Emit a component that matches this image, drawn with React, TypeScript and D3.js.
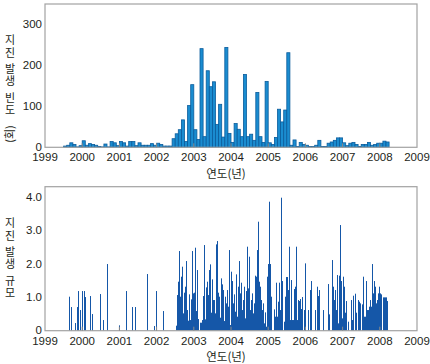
import * as d3 from "d3"

// monthly earthquake counts, starting July 1999 and ending March 2008
const countStart = 1999 + 6 / 12
const monthlyCounts = [
  // 1999 Jul-Dec
  3, 5, 11, 7, 1, 4,
  // 2000
  16, 5, 9, 7, 5, 2, 1, 8, 1, 14, 11, 4,
  // 2001
  14, 11, 3, 14, 14, 4, 11, 5, 5, 5, 9, 5,
  // 2002
  10, 7, 3, 3, 3, 21, 33, 43, 67, 14, 102, 153,
  // 2003
  43, 19, 241, 26, 187, 148, 160, 56, 105, 25, 244, 34,
  // 2004
  12, 58, 44, 26, 178, 26, 32, 17, 134, 26, 12, 161,
  // 2005
  11, 7, 24, 93, 62, 91, 231, 5, 18, 2, 12, 7,
  // 2006
  5, 2, 2, 5, 17, 2, 2, 10, 13, 17, 23, 23,
  // 2007
  11, 4, 10, 12, 7, 2, 7, 7, 12, 5, 7, 10,
  // 2008 Jan-Mar
  10, 15, 13,
]

// magnitude of individual events: [decimal year, magnitude]
const magnitudes: [number, number][] = [
  [1999.66, 1.02], [1999.72, 0.71], [1999.82, 0.23], [1999.88, 0.71], [1999.91, 1.19],
  [1999.96, 0.62], [2000.02, 1.19], [2000.07, 1.19], [2000.10, 1.01], [2000.23, 1.04],
  [2000.29, 0.5], [2000.5, 1.1], [2000.58, 0.32], [2000.69, 2.0], [2001.01, 0.16],
  [2001.18, 1.01], [2001.2, 1.19], [2001.36, 0.71], [2001.44, 0.71], [2001.76, 1.7],
  [2001.95, 0.14], [2002.0, 1.19], [2002.19, 0.59],
  [2002.535, 0.15], [2002.562, 1.07], [2002.589, 1.47], [2002.616, 2.39], [2002.643, 1.02],
  [2002.669, 1.62], [2002.696, 1.92], [2002.723, 0.52], [2002.75, 1.14], [2002.777, 1.32],
  [2002.804, 2.09], [2002.831, 0.62], [2002.858, 0.3], [2002.884, 1.09], [2002.911, 0.32],
  [2002.938, 0.94], [2002.965, 2.39], [2002.992, 1.12], [2003.019, 1.14], [2003.046, 2.49],
  [2003.073, 0.59], [2003.099, 1.82], [2003.126, 0.35], [2003.18, 0.24], [2003.207, 0.24],
  [2003.234, 0.32], [2003.261, 1.04], [2003.288, 2.57], [2003.315, 0.34], [2003.341, 1.3],
  [2003.368, 1.47], [2003.395, 1.07], [2003.422, 1.82], [2003.449, 1.99], [2003.476, 0.54],
  [2003.503, 1.54], [2003.53, 0.92], [2003.556, 0.92], [2003.583, 0.52], [2003.61, 2.59],
  [2003.637, 2.69], [2003.664, 1.14], [2003.691, 1.02], [2003.718, 0.39], [2003.745, 1.57],
  [2003.772, 1.39], [2003.798, 1.22], [2003.825, 0.29], [2003.852, 1.02], [2003.879, 0.82],
  [2003.906, 1.22], [2003.933, 0.72], [2003.96, 2.42], [2003.987, 0.17], [2004.013, 1.77],
  [2004.04, 1.49], [2004.067, 0.82], [2004.094, 1.09], [2004.121, 0.57], [2004.148, 1.69],
  [2004.175, 0.42], [2004.202, 1.32], [2004.228, 2.09], [2004.255, 1.12], [2004.282, 1.44],
  [2004.309, 0.62], [2004.336, 0.92], [2004.363, 1.32], [2004.39, 0.37], [2004.417, 1.19],
  [2004.444, 2.52], [2004.47, 1.27], [2004.497, 2.22], [2004.524, 0.62], [2004.551, 0.92],
  [2004.578, 1.12], [2004.605, 0.52], [2004.632, 0.82], [2004.659, 1.65], [2004.685, 1.62],
  [2004.712, 2.42], [2004.739, 3.27], [2004.766, 1.47], [2004.793, 1.32], [2004.82, 0.92],
  [2004.847, 0.62], [2004.874, 0.82], [2004.901, 0.22], [2004.927, 0.55], [2004.954, 0.12],
  [2004.981, 1.62], [2005.008, 2.0], [2005.035, 3.87], [2005.062, 2.0], [2005.089, 1.02],
  [2005.169, 0.64], [2005.196, 0.42], [2005.223, 1.44], [2005.25, 0.42], [2005.277, 0.87],
  [2005.304, 1.44], [2005.331, 0.62], [2005.358, 3.99], [2005.384, 1.49], [2005.438, 0.27],
  [2005.465, 1.02], [2005.492, 1.61], [2005.519, 1.61], [2005.546, 1.22], [2005.573, 2.52],
  [2005.599, 0.32], [2005.626, 1.52], [2005.653, 0.32], [2005.68, 0.32], [2005.707, 1.25],
  [2005.734, 1.32], [2005.761, 2.52], [2005.788, 0.32], [2005.815, 0.92], [2005.841, 0.89],
  [2005.868, 0.95], [2005.895, 0.65], [2005.922, 1.01], [2005.976, 0.62], [2006.003, 2.02],
  [2006.083, 0.62], [2006.137, 1.22], [2006.164, 1.49], [2006.272, 0.62], [2006.325, 1.32],
  [2006.352, 1.04], [2006.379, 1.22], [2006.487, 0.62], [2006.621, 1.4], [2006.648, 0.49],
  [2006.729, 2.12], [2006.755, 1.32], [2006.782, 0.92], [2006.809, 1.22], [2006.836, 0.62],
  [2006.863, 1.67], [2006.89, 0.22], [2006.917, 1.65], [2006.944, 3.17], [2006.97, 1.49],
  [2006.997, 0.37], [2007.024, 1.62], [2007.051, 1.32], [2007.078, 0.54], [2007.105, 0.89],
  [2007.159, 0.27], [2007.239, 0.92], [2007.266, 0.32], [2007.293, 1.05], [2007.347, 1.11],
  [2007.374, 0.54], [2007.427, 0.92], [2007.454, 0.87], [2007.481, 0.82], [2007.535, 0.79],
  [2007.562, 1.62], [2007.589, 0.42], [2007.616, 0.42], [2007.642, 1.49], [2007.669, 0.62],
  [2007.696, 0.62], [2007.723, 0.72], [2007.75, 0.92], [2007.777, 0.72], [2007.804, 2.0],
  [2007.831, 1.12], [2007.858, 1.49], [2007.884, 1.32], [2007.911, 0.82], [2007.938, 0.92],
  [2007.965, 1.12], [2007.992, 1.32], [2008.019, 1.12], [2008.046, 1.09], [2008.099, 1.0],
  [2008.126, 1.0], [2008.153, 1.0], [2008.18, 1.0], [2008.207, 0.89],
]

const years = d3.range(1999, 2010)
const countTicks = [0, 100, 200, 300]
const magTicks = [0, 1, 2, 3, 4]

// thin spaces between the word pairs
const countTitle = "지진\u2009발생\u2009빈도"
const magTitle = "지진\u2009발생\u2009규모"

const W = 430
const H = 364
const left = 45
const right = 417
const numFont = "'Liberation Sans Narrow', 'Arial Narrow', 'Liberation Sans', sans-serif"
const korFont = "'Noto Sans CJK KR', sans-serif"
const textColor = "#231f20"
const frameColor = "#a2a2a2"

function Frame({ top, bottom }: { top: number; bottom: number }) {
  const x = d3.scaleLinear().domain([1999, 2009]).range([left, right])
  return (
    <g>
      <rect x={left} y={top} width={right - left} height={bottom - top} fill="none" stroke={frameColor} strokeWidth={1.2} />
      {years.slice(1, -1).map((yr) => (
        <line key={yr} x1={x(yr)} x2={x(yr)} y1={bottom} y2={bottom - 4} stroke="#8a8a8a" strokeWidth={1} />
      ))}
      {years.map((yr) => (
        <text key={yr} x={x(yr)} y={bottom + 14} textAnchor="middle" fontFamily={numFont} fontSize={11.5} fill={textColor}>
          {yr}
        </text>
      ))}
      <text x={226} y={bottom + 30.5} textAnchor="middle" fontFamily={korFont} fontSize={11.5} fill={textColor}>
        연도(년)
      </text>
    </g>
  )
}

// upright stacked hangul, written top to bottom
function VerticalTitle({ text, top }: { text: string; top: number }) {
  return (
    <text x={10} y={top} fontFamily={korFont} fontSize={11} fill={textColor}
      style={{ writingMode: "vertical-rl", textOrientation: "upright", letterSpacing: "1.5px" }}>
      {text}
    </text>
  )
}

export default function App() {
  const x = d3.scaleLinear().domain([1999, 2009]).range([left, right])

  // upper panel: monthly counts
  const topY0 = 4
  const topY1 = 147.3
  const yCount = d3.scaleLinear().domain([0, 350]).range([topY1, topY0])

  // lower panel: magnitudes
  const botY0 = 186.7
  const botY1 = 330.7
  const yMag = d3.scaleLinear().domain([0, 4.32]).range([botY1, botY0])

  return (
    <svg width={W} height={H} style={{ position: "absolute", left: 0, top: 0, background: "#fff" }}>
      {/* count bars */}
      <g>
        {monthlyCounts.map((v, i) => {
          const t0 = countStart + i / 12
          const x0 = x(t0)
          const x1 = x(t0 + 1 / 12)
          return (
            <rect key={i} x={x0} y={yCount(v)} width={x1 - x0} height={topY1 - yCount(v)}
              fill="#1a8cd0" stroke="#0b5c9c" strokeWidth={0.8} />
          )
        })}
      </g>
      <Frame top={topY0} bottom={topY1} />
      {countTicks.map((t) => (
        <text key={t} x={42} y={yCount(t)} dy="0.33em" textAnchor="end" fontFamily={numFont} fontSize={11.5} fill={textColor}>
          {t}
        </text>
      ))}
      <VerticalTitle text={countTitle} top={34.5} />
      <text transform="translate(10,134) rotate(-90)" dy="0.36em" textAnchor="middle" fontFamily={korFont} fontSize={11} fill={textColor}>
        (회)
      </text>

      {/* magnitude lines */}
      <g>
        {magnitudes.map(([t, m], i) => {
          const px = Math.floor(x(t)) + 0.5
          return <line key={i} x1={px} x2={px} y1={botY1} y2={yMag(m)} stroke="#1557a8" strokeWidth={1} />
        })}
      </g>
      <Frame top={botY0} bottom={botY1} />
      {magTicks.map((t) => (
        <text key={t} x={42} y={yMag(t)} dy="0.33em" textAnchor="end" fontFamily={numFont} fontSize={11.5} fill={textColor}>
          {t === 0 ? "0" : d3.format(".1f")(t)}
        </text>
      ))}
      <VerticalTitle text={magTitle} top={217.5} />
    </svg>
  )
}
